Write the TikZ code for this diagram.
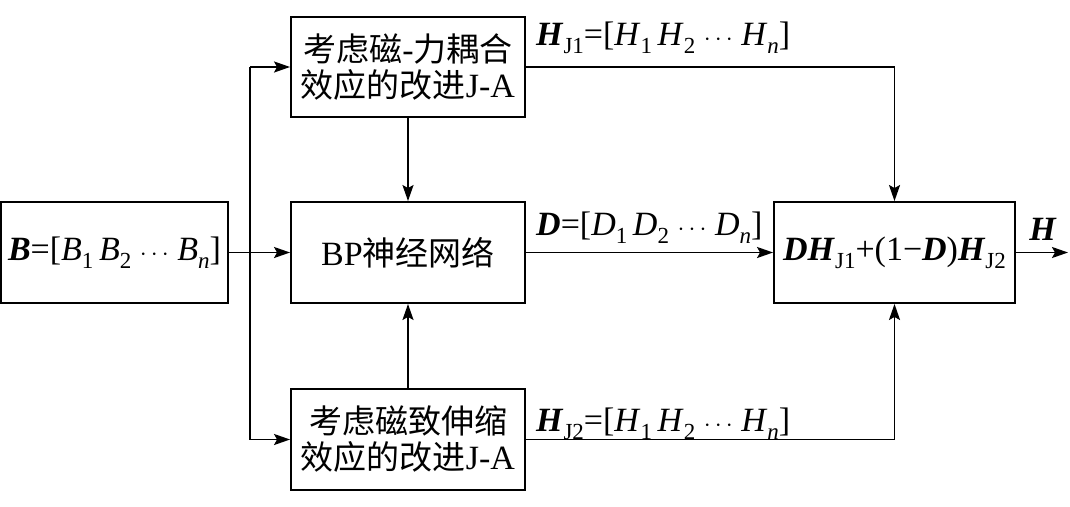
\documentclass[tikz,border=0pt]{standalone}
\usepackage{fontspec}
\setmainfont{Liberation Serif}
\newfontfamily\cjk{Noto Sans CJK SC}
\usetikzlibrary{arrows.meta}
\newcommand\sbs[1]{\raisebox{-0.5ex}{\fontsize{23}{23}\selectfont #1}}
\newcommand\bi[1]{\textbf{\textit{#1}}}
\newcommand\cj[1]{{\fontsize{33}{40}\selectfont\cjk #1}}
\begin{document}
\begin{tikzpicture}[x=1pt,y=-1pt,
  box/.style={draw,line width=1.9pt,inner sep=0pt,align=center,font=\fontsize{34}{40}\selectfont},
  conn/.style={line width=1.9pt},
  arr/.style={conn,-{Stealth[length=16pt,width=11pt,inset=3pt]}},
  lbl/.style={inner sep=0pt,font=\fontsize{34}{40}\selectfont}]
\useasboundingbox (0,0) rectangle (1070,506);
\node[box,minimum width=227pt,minimum height=101pt] (B) at (114.5,252.5)
  {\bi{B}=[\textit{B}\sbs{1}\,\textit{B}\sbs{2} $\cdots$ \textit{B}\sbs{\textit{n}}]};
\node[box,minimum width=234pt,minimum height=100pt] (top) at (408,67)
  {\cj{考虑磁}-\cj{力耦合}\\[-4pt]\cj{效应的改进}J-A};
\node[box,minimum width=234pt,minimum height=101pt] (bp) at (408,252.5)
  {BP\cj{神经网络}};
\node[box,minimum width=234pt,minimum height=101pt] (bot) at (408,439.5)
  {\cj{考虑磁致伸缩}\\[-4pt]\cj{效应的改进}J-A};
\node[box,minimum width=241pt,minimum height=101pt] (R) at (894.5,252.5)
  {\bi{DH}\sbs{J1}+(1−\bi{D})\bi{H}\sbs{J2}};
\coordinate (j) at (250,252.5);
\coordinate (out) at (1068,252.5);
\draw[arr] (B.east) -- (bp.west);
\draw[conn] (j |- top.west) -- (j |- bot.west);
\draw[arr] (j |- top.west) -- (top.west);
\draw[arr] (j |- bot.west) -- (bot.west);
\draw[arr] (top.south) -- (bp.north);
\draw[arr] (bot.north) -- (bp.south);
\draw[arr] (top.east) -| (R.north);
\draw[arr] (bot.east) -| (R.south);
\draw[arr] (bp.east) -- (R.west);
\draw[arr] (R.east) -- (out);
\node[lbl,anchor=west] (l1) at (536,38) {\bi{H}\sbs{J1}=[\textit{H}\sbs{1}\,\textit{H}\sbs{2} $\cdots$ \textit{H}\sbs{\textit{n}}]};
\node[lbl,anchor=west] (l2) at (536,228) {\bi{D}=[\textit{D}\sbs{1}\,\textit{D}\sbs{2} $\cdots$ \textit{D}\sbs{\textit{n}}]};
\node[lbl,anchor=west] (l3) at (536,424) {\bi{H}\sbs{J2}=[\textit{H}\sbs{1}\,\textit{H}\sbs{2} $\cdots$ \textit{H}\sbs{\textit{n}}]};
\node[lbl] (lH) at (1043,229) {\bi{H}};
\end{tikzpicture}
\end{document}
